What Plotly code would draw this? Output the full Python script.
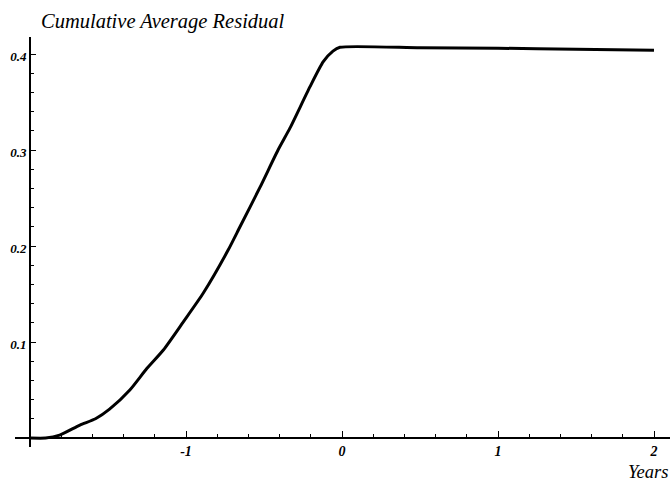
import plotly.graph_objects as go

# data
years = [-2.0, -1.9, -1.81, -1.68, -1.58, -1.49, -1.36, -1.25, -1.145, -1.017, -0.889,
         -0.729, -0.654, -0.526, -0.41, -0.333, -0.205, -0.12, -0.058, -0.013,
         0.5, 1.0, 1.5, 2.0]
car = [0.0, 0.0, 0.003, 0.0135, 0.02, 0.03, 0.05, 0.0726, 0.0917, 0.121, 0.151,
       0.196, 0.22, 0.261, 0.30, 0.323, 0.366, 0.392, 0.403, 0.407,
       0.4065, 0.406, 0.405, 0.404]
x_ticks = [-1, 0, 1, 2]
x_tick_labels = ["-1", "0", "1", "2"]
y_ticks = [0.1, 0.2, 0.3, 0.4]
y_tick_labels = ["0.1", "0.2", "0.3", "0.4"]

W, H = 670, 482
ml, mr, mt, mb = 15, 0, 37, 35
pw, ph = W - ml - mr, H - mt - mb
unit_x = 156.0
x0_px = 342.0
xr = [(ml - x0_px) / unit_x, (W - mr - x0_px) / unit_x]
unit_y = 960.0
y0_px = 438.0
yr = [(y0_px - (H - mb)) / unit_y, (y0_px - mt) / unit_y]

serif = "Liberation Serif, Times New Roman, serif"

fig = go.Figure()
fig.add_trace(go.Scatter(x=years, y=car, mode="lines",
                         line=dict(color="black", width=3, shape="spline", smoothing=0.6),
                         showlegend=False, hoverinfo="skip"))

fig.update_layout(
    template="none",
    width=W, height=H,
    margin=dict(l=ml, r=mr, t=mt, b=mb, autoexpand=False),
    paper_bgcolor="white", plot_bgcolor="white",
    xaxis=dict(range=xr, showgrid=False, zeroline=False, showline=True, automargin=False,
               linecolor="black", linewidth=2,
               anchor="free", position=(H - mb - y0_px) / ph,
               tickmode="array", tickvals=x_ticks, ticktext=x_tick_labels,
               ticks="inside", ticklen=6, tickwidth=1.2, tickcolor="black",
               minor=dict(dtick=0.2, tick0=0, ticks="inside", ticklen=3,
                          tickwidth=1, tickcolor="black", showgrid=False),
               tickfont=dict(family=serif, size=14, color="black", style="italic",
                             weight="bold")),
    yaxis=dict(range=yr, showgrid=False, zeroline=False, showline=True, automargin=False,
               linecolor="black", linewidth=2,
               anchor="free", position=(30 - ml) / pw,
               tickmode="array", tickvals=y_ticks, ticktext=y_tick_labels,
               ticks="inside", ticklen=5, tickwidth=1.2, tickcolor="black",
               ticklabelshift=2,
               minor=dict(dtick=0.02, tick0=0, ticks="inside", ticklen=3,
                          tickwidth=1, tickcolor="black", showgrid=False),
               tickfont=dict(family=serif, size=13, color="black", style="italic",
                             weight="bold")),
    annotations=[
        dict(text="Cumulative Average Residual", xref="paper", yref="paper",
             x=(39 - ml) / pw, y=(H - mb - 22) / ph, xanchor="left", yanchor="middle",
             showarrow=False,
             font=dict(family=serif, size=20.5, color="black", style="italic")),
        dict(text="Years", xref="paper", yref="paper",
             x=(626 - ml) / pw, y=(H - mb - 472) / ph, xanchor="left", yanchor="middle",
             showarrow=False,
             font=dict(family=serif, size=18.5, color="black", style="italic")),
    ],
)

fig.write_html("out.html", config={"displayModeBar": False},
               post_script="document.body.style.margin='0px';")
